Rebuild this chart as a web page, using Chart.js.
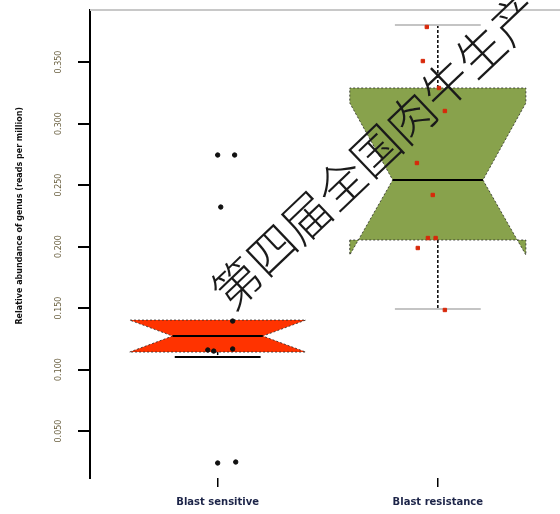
<!DOCTYPE html>
<html>
<head>
<meta charset="utf-8">
<script src="https://cdn.jsdelivr.net/npm/chart.js@4/dist/chart.umd.min.js"></script>
<style>
  html, body { margin: 0; padding: 0; background: #fff; }
  #wrap { width: 560px; height: 514px; }
</style>
</head>
<body>
<div id="wrap"><canvas id="c" width="560" height="514"></canvas></div>
<script>
// Groups along the x axis
const groups = ['Blast sensitive', 'Blast resistance'];
// Y axis tick values
const yTicks = [0.05, 0.10, 0.15, 0.20, 0.25, 0.30, 0.35];
const yTitle = 'Relative abundance of genus (reads per million)';

// Box statistics per group
const lowerWhisker = [0.1102, 0.1492];
const q1 = [0.1142, 0.2053];
const median = [0.1272, 0.2541];
const q3 = [0.1402, 0.3289];
const upperWhisker = [0.1402, 0.3801];
const notchLow = [0.1142, 0.1931];
const notchHigh = [0.1402, 0.3167];

// Individual samples (value, horizontal jitter in group units)
const sensitiveValues = [0.2744, 0.2744, 0.2321, 0.1394, 0.1167, 0.1159, 0.1150, 0.0240, 0.0248];
const sensitiveJitter = [0.000, 0.077, 0.014, 0.068, 0.068, -0.045, -0.018, 0.000, 0.082];
const resistantValues = [0.3785, 0.3508, 0.3289, 0.3102, 0.2679, 0.2419, 0.2069, 0.2069, 0.1988, 0.1484];
const resistantJitter = [-0.050, -0.068, 0.005, 0.032, -0.095, -0.023, -0.045, -0.010, -0.091, 0.032];

const boxFill = ['#ff3300', '#88a24c'];
const capColor = ['#000000', '#c4c4c4'];

const toPoints = (vals, jit, center) => vals.map((v, k) => ({ x: center + jit[k], y: v }));

const notchedBoxes = {
  id: 'notchedBoxes',
  beforeDatasetsDraw(chart) {
    const { ctx, chartArea, scales: { x, y } } = chart;
    // light frame line along the top of the plot
    ctx.save();
    ctx.strokeStyle = '#c8c8c8';
    ctx.lineWidth = 2;
    ctx.beginPath();
    ctx.moveTo(chartArea.left, chartArea.top);
    ctx.lineTo(chartArea.right, chartArea.top);
    ctx.stroke();
    ctx.restore();

    // y axis title
    ctx.save();
    ctx.translate(20, (y.getPixelForValue(0.2) + y.getPixelForValue(0.25)) / 2);
    ctx.rotate(-Math.PI / 2);
    ctx.font = 'bold 8px "DejaVu Sans"';
    ctx.fillStyle = '#111';
    ctx.textAlign = 'center';
    ctx.textBaseline = 'middle';
    ctx.fillText(yTitle, 0, 0);
    ctx.restore();

    const px = v => x.getPixelForValue(v);
    const py = v => y.getPixelForValue(v);
    const halfBox = 0.4, halfNotch = 0.205, halfCap = 0.195;
    groups.forEach((g, i) => {
      const c = i + 1;
      ctx.save();
      // whiskers
      ctx.strokeStyle = '#000';
      ctx.lineWidth = 1.5;
      ctx.setLineDash([3, 2]);
      ctx.beginPath();
      ctx.moveTo(px(c), py(q3[i]));
      ctx.lineTo(px(c), py(upperWhisker[i]));
      ctx.moveTo(px(c), py(q1[i]));
      ctx.lineTo(px(c), py(lowerWhisker[i]));
      ctx.stroke();
      // whisker caps
      ctx.setLineDash([]);
      ctx.strokeStyle = capColor[i];
      ctx.lineWidth = 2;
      ctx.beginPath();
      if (upperWhisker[i] > q3[i]) {
        ctx.moveTo(px(c - halfCap), py(upperWhisker[i]));
        ctx.lineTo(px(c + halfCap), py(upperWhisker[i]));
      }
      ctx.moveTo(px(c - halfCap), py(lowerWhisker[i]));
      ctx.lineTo(px(c + halfCap), py(lowerWhisker[i]));
      ctx.stroke();
      // notched box
      ctx.beginPath();
      ctx.moveTo(px(c - halfBox), py(q1[i]));
      ctx.lineTo(px(c - halfBox), py(notchLow[i]));
      ctx.lineTo(px(c - halfNotch), py(median[i]));
      ctx.lineTo(px(c - halfBox), py(notchHigh[i]));
      ctx.lineTo(px(c - halfBox), py(q3[i]));
      ctx.lineTo(px(c + halfBox), py(q3[i]));
      ctx.lineTo(px(c + halfBox), py(notchHigh[i]));
      ctx.lineTo(px(c + halfNotch), py(median[i]));
      ctx.lineTo(px(c + halfBox), py(notchLow[i]));
      ctx.lineTo(px(c + halfBox), py(q1[i]));
      ctx.closePath();
      ctx.fillStyle = boxFill[i];
      ctx.fill();
      ctx.strokeStyle = 'rgba(40,40,40,0.8)';
      ctx.lineWidth = 1;
      ctx.setLineDash([2, 2]);
      ctx.stroke();
      // median
      ctx.setLineDash([]);
      ctx.strokeStyle = '#000';
      ctx.lineWidth = 2;
      ctx.beginPath();
      ctx.moveTo(px(c - halfNotch), py(median[i]));
      ctx.lineTo(px(c + halfNotch), py(median[i]));
      ctx.stroke();
      ctx.restore();
    });
  },
  afterDraw(chart) {
    const { ctx } = chart;
    ctx.save();
    ctx.translate(219.5, 299.5);
    ctx.rotate(-43.6 * Math.PI / 180);
    ctx.font = '300 48px "Noto Sans CJK SC"';
    ctx.fillStyle = '#1a1a1a';
    ctx.textAlign = 'left';
    ctx.textBaseline = 'middle';
    ctx.fillText('第四届全国肉牛生产', 0, 0);
    ctx.restore();
  }
};

new Chart(document.getElementById('c'), {
  type: 'scatter',
  data: {
    datasets: [
      {
        label: groups[0],
        data: toPoints(sensitiveValues, sensitiveJitter, 1),
        backgroundColor: '#111',
        borderColor: '#111',
        pointRadius: 2.2,
        pointStyle: 'circle'
      },
      {
        label: groups[1],
        data: toPoints(resistantValues, resistantJitter, 2),
        backgroundColor: '#d8280a',
        borderColor: '#d8280a',
        pointRadius: 2.4,
        pointStyle: 'rect'
      }
    ]
  },
  options: {
    responsive: false,
    devicePixelRatio: 1,
    animation: false,
    layout: { autoPadding: false, padding: { top: 10, right: 0, left: 0, bottom: 0 } },
    plugins: { legend: { display: false }, tooltip: { enabled: false } },
    scales: {
      x: {
        type: 'linear',
        min: 0.42,
        max: 2.555,
        afterBuildTicks: s => { s.ticks = groups.map((g, i) => ({ value: i + 1 })); },
        afterFit: s => { s.height = 36; s.paddingLeft = 0; s.paddingRight = 0; },
        ticks: {
          callback: v => groups[Math.round(v) - 1],
          font: { family: 'DejaVu Sans', size: 10, weight: 'bold' },
          color: '#1c2448',
          padding: 9
        },
        grid: { drawOnChartArea: false, tickLength: 9, color: '#000', lineWidth: 1.5 },
        border: { display: false }
      },
      y: {
        type: 'linear',
        min: 0.0118,
        max: 0.3923,
        afterBuildTicks: s => { s.ticks = yTicks.map(v => ({ value: v })); },
        afterFit: s => { s.width = 90; s.paddingTop = 0; s.paddingBottom = 0; },
        ticks: {
          minRotation: 90,
          maxRotation: 90,
          crossAlign: 'center',
          padding: 8,
          font: { family: 'DejaVu Sans', size: 8 },
          color: '#6a6040',
          callback: v => v.toFixed(3)
        },
        grid: { drawOnChartArea: false, tickLength: 12, color: '#000', lineWidth: 2 },
        border: { color: '#000', width: 2 }
      }
    }
  },
  plugins: [notchedBoxes]
});
</script>
</body>
</html>
